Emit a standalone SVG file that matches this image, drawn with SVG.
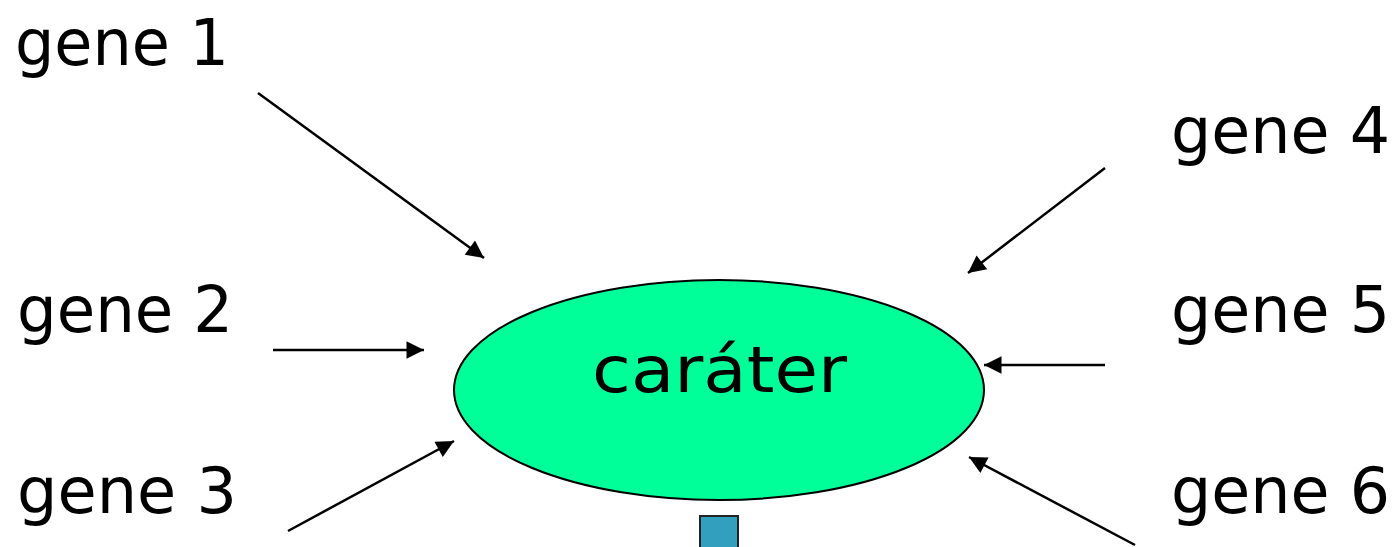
<svg xmlns="http://www.w3.org/2000/svg" width="1398" height="547" viewBox="0 0 1398 547">
<style>
text{font-family:"Comic Sans MS","DejaVu Sans",sans-serif;font-size:64px;fill:#000}
.g{letter-spacing:0}
.c line{stroke:#000;stroke-width:2.5;marker-end:url(#ah)}
</style>
<defs>
<marker id="ah" viewBox="0 0 10 10" refX="10" refY="5" markerWidth="8" markerHeight="7" orient="auto" markerUnits="strokeWidth">
<path d="M0,0 L10,5 L0,10 z" fill="#000"/>
</marker>
</defs>
<rect width="1398" height="547" fill="#fff"/>
<g id="carater">
<ellipse cx="719" cy="390" rx="265" ry="110" fill="#00FF99" stroke="#000" stroke-width="2"/>
<text x="592" y="392" textLength="255" lengthAdjust="spacingAndGlyphs">caráter</text>
</g>
<g id="box"><rect x="700" y="516" width="38" height="40" fill="#339FBF" stroke="#222" stroke-width="2"/></g>
<g id="gene1"><text x="15" y="65" textLength="214" lengthAdjust="spacingAndGlyphs">gene 1</text></g>
<g id="gene2"><text x="17" y="332" textLength="216" lengthAdjust="spacingAndGlyphs">gene 2</text></g>
<g id="gene3"><text x="17" y="513" textLength="220" lengthAdjust="spacingAndGlyphs">gene 3</text></g>
<g id="gene4"><text x="1171" y="153" textLength="219" lengthAdjust="spacingAndGlyphs">gene 4</text></g>
<g id="gene5"><text x="1171" y="332" textLength="219" lengthAdjust="spacingAndGlyphs">gene 5</text></g>
<g id="gene6"><text x="1171" y="513" textLength="219" lengthAdjust="spacingAndGlyphs">gene 6</text></g>
<g id="connectors" class="c">
<line x1="258" y1="93" x2="484" y2="258"/>
<line x1="273" y1="350" x2="424" y2="350"/>
<line x1="288" y1="531" x2="454" y2="441"/>
<line x1="1105" y1="168" x2="968" y2="273"/>
<line x1="1105" y1="365" x2="984" y2="365"/>
<line x1="1135" y1="545" x2="969" y2="457"/>
</g>
</svg>
